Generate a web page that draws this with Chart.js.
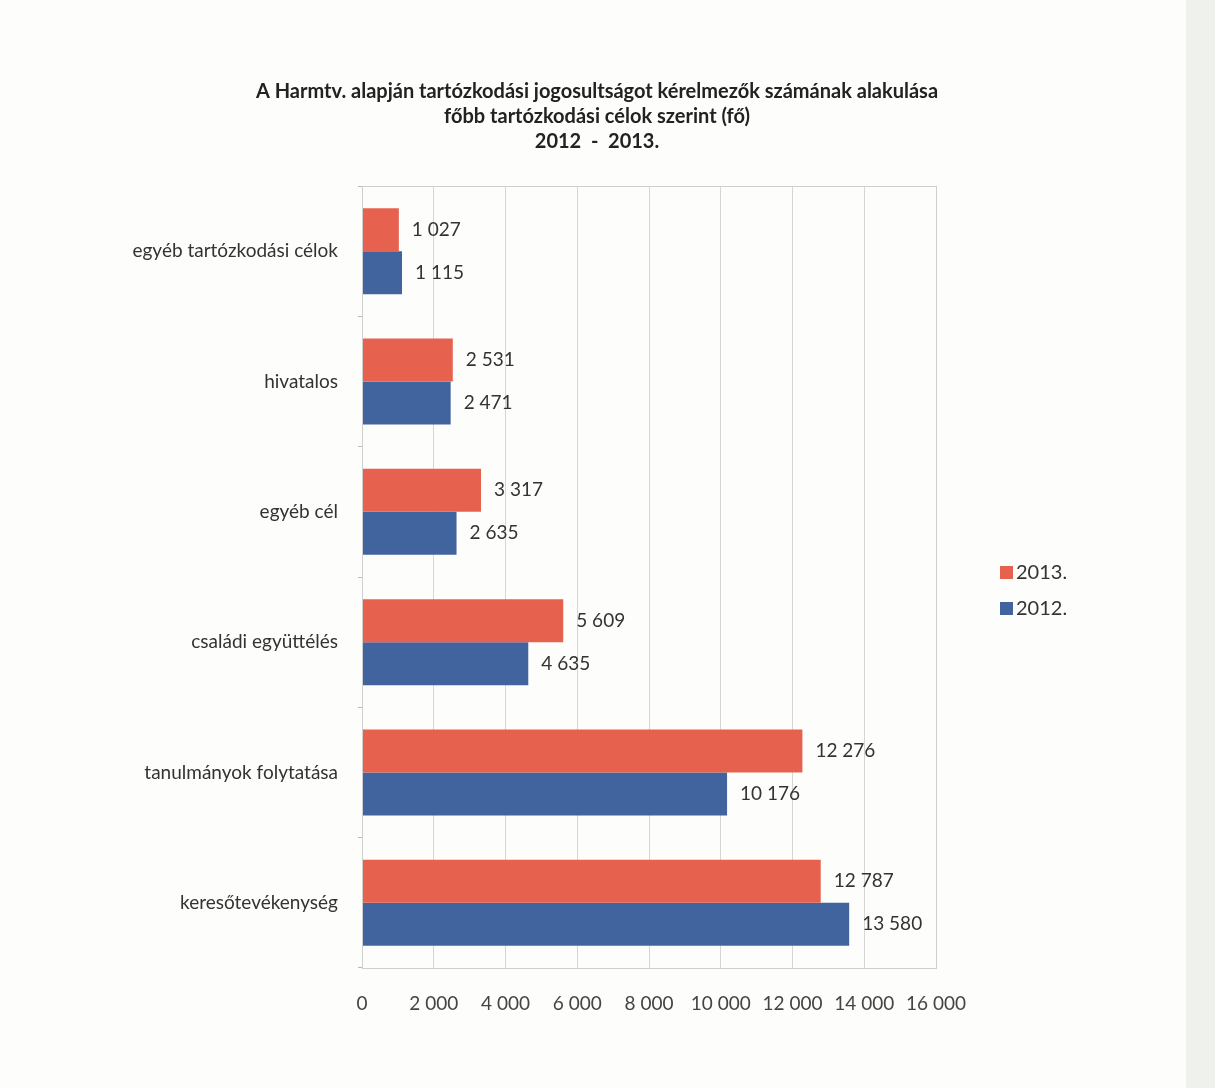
<!DOCTYPE html>
<html>
<head>
<meta charset="utf-8">
<script src="https://cdn.jsdelivr.net/npm/chart.js@4.4.1/dist/chart.umd.min.js"></script>
<style>
  html, body { margin: 0; padding: 0; }
  body { background: linear-gradient(to right, #fdfdfc 0, #fdfdfc 1186px, #eef1ec 1186px); width: 1215px; height: 1088px; overflow: hidden; }
  canvas { display: block; }
</style>
</head>
<body>
<canvas id="chart" width="1215" height="1088"></canvas>
<script>
// --- dados ---
const categories = ['egyéb tartózkodási célok', 'hivatalos', 'egyéb cél', 'családi együttélés', 'tanulmányok folytatása', 'keresőtevékenység'];
const values2013 = [1027, 2531, 3317, 5609, 12276, 12787];
const values2012 = [1115, 2471, 2635, 4635, 10176, 13580];
const xTicks = [0, 2000, 4000, 6000, 8000, 10000, 12000, 14000, 16000];
const titleLines = ['A Harmtv. alapján tartózkodási jogosultságot kérelmezők számának alakulása', 'főbb tartózkodási célok szerint (fő)', '2012  -  2013.'];

const FONT = "Lato, 'Open Sans', sans-serif";
const RED = '#e6624f';
const BLUE = '#41649f';

// formata 12276 -> "12 276"
function fmt(v) {
    return String(v).replace(/\B(?=(\d{3})+(?!\d))/g, ' ');
}

// título, legenda, rótulos e moldura
const extras = {
    id: 'extras',
    afterDatasetsDraw(chart) {
        const ctx = chart.ctx;
        const area = chart.chartArea;
        ctx.save();

        // moldura da área do gráfico
        ctx.strokeStyle = '#cfcfcf';
        ctx.lineWidth = 1;
        ctx.strokeRect(area.left + 0.5, area.top + 0.5, area.right - area.left, area.bottom - area.top);

        // rótulos dos valores
        ctx.font = '19px ' + FONT;
        ctx.fillStyle = '#333';
        ctx.textBaseline = 'middle';
        ctx.textAlign = 'left';
        chart.data.datasets.forEach((ds, i) => {
            chart.getDatasetMeta(i).data.forEach((bar, j) => {
                ctx.fillText(fmt(ds.data[j]), bar.x + 13, bar.y);
            });
        });

        // título
        ctx.font = 'bold 20px ' + FONT;
        ctx.fillStyle = '#222';
        ctx.textAlign = 'center';
        titleLines.forEach((line, k) => {
            ctx.fillText(line, 597, 92 + k * 25);
        });

        // legenda
        ctx.font = '20px ' + FONT;
        ctx.textAlign = 'left';
        chart.data.datasets.forEach((ds, i) => {
            const y = 572 + i * 36;
            ctx.fillStyle = ds.backgroundColor;
            ctx.fillRect(1000, y - 6, 13, 13);
            ctx.fillStyle = '#333';
            ctx.fillText(ds.label, 1016, y + 1);
        });

        ctx.restore();
    }
};

new Chart(document.getElementById('chart').getContext('2d'), {
    type: 'bar',
    data: {
        labels: categories,
        datasets: [
            { label: '2013.', data: values2013, backgroundColor: RED, categoryPercentage: 0.66, barPercentage: 1 },
            { label: '2012.', data: values2012, backgroundColor: BLUE, categoryPercentage: 0.66, barPercentage: 1 }
        ]
    },
    options: {
        indexAxis: 'y',
        responsive: false,
        animation: false,
        layout: { padding: { left: 0, top: 186, right: 279, bottom: 0 } },
        scales: {
            x: {
                min: 0,
                max: 16000,
                afterFit: (scale) => { scale.height = 120; },
                afterBuildTicks: (scale) => { scale.ticks = xTicks.map(v => ({ value: v })); },
                grid: { color: '#d6d6d6', drawTicks: false },
                border: { color: '#cfcfcf' },
                ticks: { color: '#444', font: { family: FONT, size: 19 }, padding: 24, maxRotation: 0, callback: (v) => fmt(v) }
            },
            y: {
                afterFit: (scale) => { scale.width = 362; },
                grid: { drawOnChartArea: false, color: '#bbb', tickLength: 4, offset: true },
                border: { color: '#bdbdbd' },
                ticks: { color: '#333', font: { family: FONT, size: 19 }, padding: 20 }
            }
        },
        plugins: {
            legend: { display: false },
            title: { display: false },
            tooltip: { enabled: false }
        }
    },
    plugins: [extras]
});
</script>
</body>
</html>
